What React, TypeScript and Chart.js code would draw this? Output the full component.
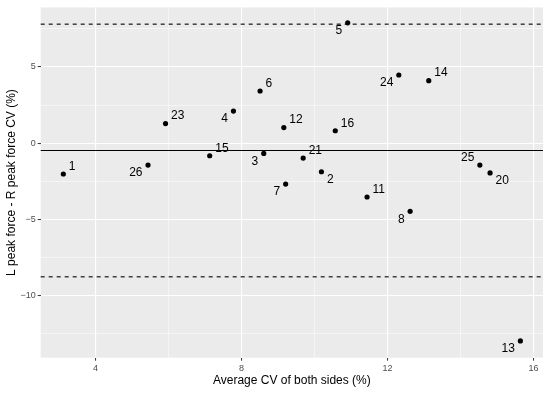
import React, { useEffect, useRef } from "react";
import { Chart, registerables } from "chart.js";

Chart.register(...registerables);

const pointIds = [1, 2, 3, 4, 5, 6, 7, 8, 11, 12, 13, 14, 15, 16, 20, 21, 23, 24, 25, 26];
const avgCV = [3.12, 10.19, 8.61, 7.78, 10.91, 8.51, 9.21, 12.62, 11.44, 9.16, 15.64, 13.13, 7.13, 10.57, 14.81, 9.69, 5.92, 12.31, 14.53, 5.44];
const diffCV = [-2.03, -1.88, -0.68, 2.1, 7.9, 3.42, -2.69, -4.48, -3.54, 1.02, -12.99, 4.1, -0.83, 0.81, -1.96, -0.98, 1.28, 4.47, -1.44, -1.44];
const labelSide = ["ur", "dr", "dl", "dl", "dl", "ur", "dl", "dl", "ur", "ur", "dl", "ur", "ur", "ur", "dr", "ur", "ur", "dl", "ul", "dl"];

const meanDiff = -0.49;
const upperLoA = 7.81;
const lowerLoA = -8.78;

const xTicks = [4, 6, 8, 10, 12, 14, 16];
const yTicks = [-12.5, -10, -7.5, -5, -2.5, 0, 2.5, 5, 7.5];
const xRange = [2.5, 16.26];
const yRange = [-14.09, 8.91];

const FONT = "'Liberation Sans', Arial, Helvetica, sans-serif";

const fmt = (v: number) => (v < 0 ? "\u2212" + String(Math.abs(v)) : String(v));

const panelPlugin = {
  id: "panelBg",
  beforeDraw(chart: any) {
    const { ctx, chartArea } = chart;
    ctx.save();
    ctx.fillStyle = "#EBEBEB";
    ctx.fillRect(chartArea.left, chartArea.top, chartArea.right - chartArea.left, chartArea.bottom - chartArea.top);
    ctx.restore();
  },
};

const refLinesPlugin = {
  id: "refLines",
  beforeDatasetsDraw(chart: any) {
    const { ctx, chartArea, scales } = chart;
    const draw = (v: number, dash: number[]) => {
      const y = scales.y.getPixelForValue(v);
      ctx.save();
      ctx.strokeStyle = "#000000";
      ctx.lineWidth = 1.1;
      ctx.setLineDash(dash);
      ctx.beginPath();
      ctx.moveTo(chartArea.left, y);
      ctx.lineTo(chartArea.right, y);
      ctx.stroke();
      ctx.restore();
    };
    draw(meanDiff, []);
    draw(upperLoA, [4, 4]);
    draw(lowerLoA, [4, 4]);
  },
};

const labelPlugin = {
  id: "pointLabels",
  afterDatasetsDraw(chart: any) {
    const { ctx } = chart;
    const meta = chart.getDatasetMeta(0);
    ctx.save();
    ctx.font = `12px ${FONT}`;
    ctx.fillStyle = "#000000";
    ctx.textBaseline = "middle";
    meta.data.forEach((el: any, i: number) => {
      const side = labelSide[i];
      const right = side[1] === "r";
      const up = side[0] === "u";
      ctx.textAlign = right ? "left" : "right";
      const x = el.x + (right ? 5.5 : -5.5);
      const y = el.y + (up ? -7.5 : 8);
      ctx.fillText(String(pointIds[i]), x, y);
    });
    ctx.restore();
  },
};

export default function App() {
  const ref = useRef<HTMLCanvasElement | null>(null);
  useEffect(() => {
    if (!ref.current) return;
    const chart = new Chart(ref.current, {
      type: "scatter",
      data: {
        datasets: [
          {
            data: avgCV.map((x, i) => ({ x, y: diffCV[i] })),
            backgroundColor: "#000000",
            borderColor: "#000000",
            pointRadius: 2.6,
            pointHoverRadius: 2.6,
            borderWidth: 0,
          },
        ],
      },
      options: {
        responsive: false,
        animation: false,
        devicePixelRatio: 1,
        layout: { padding: { top: 7, right: 7, left: 0, bottom: 0 } },
        plugins: { legend: { display: false }, tooltip: { enabled: false } },
        scales: {
          x: {
            type: "linear",
            min: xRange[0],
            max: xRange[1],
            afterBuildTicks: (s: any) => {
              s.ticks = xTicks.map((value) => ({ value }));
            },
            afterFit: (s: any) => {
              s.height = 35.3;
            },
            border: { display: false },
            grid: {
              color: "#FFFFFF",
              lineWidth: (c: any) => (c.tick && c.tick.value % 4 === 0 ? 1.1 : 0.5),
              tickColor: (c: any) => (c.tick && c.tick.value % 4 === 0 ? "#333333" : "rgba(0,0,0,0)"),
              tickLength: 3,
              tickWidth: 1,
            },
            ticks: {
              padding: 2,
              color: "#4D4D4D",
              font: { family: FONT, size: 9 },
              maxRotation: 0,
              autoSkip: false,
              callback: (v: any) => (Number(v) % 4 === 0 ? fmt(Number(v)) : ""),
            },
            title: {
              display: true,
              text: "Average CV of both sides (%)",
              color: "#000000",
              font: { family: FONT, size: 12 },
              padding: { top: 0, bottom: 4.8 },
            },
          },
          y: {
            type: "linear",
            min: yRange[0],
            max: yRange[1],
            afterBuildTicks: (s: any) => {
              s.ticks = yTicks.map((value) => ({ value }));
            },
            afterFit: (s: any) => {
              s.width = 40.7;
            },
            border: { display: false },
            grid: {
              color: "#FFFFFF",
              lineWidth: (c: any) => (c.tick && c.tick.value % 5 === 0 ? 1.1 : 0.5),
              tickColor: (c: any) => (c.tick && c.tick.value % 5 === 0 ? "#333333" : "rgba(0,0,0,0)"),
              tickLength: 3,
              tickWidth: 1,
            },
            ticks: {
              padding: 2,
              color: "#4D4D4D",
              font: { family: FONT, size: 9 },
              autoSkip: false,
              callback: (v: any) => (Number(v) % 5 === 0 ? fmt(Number(v)) : ""),
            },
            title: {
              display: true,
              text: "L peak force - R peak force CV (%)",
              color: "#000000",
              font: { family: FONT, size: 12 },
              padding: { top: 4.8, bottom: 0 },
            },
          },
        },
      },
      plugins: [panelPlugin, refLinesPlugin, labelPlugin],
    } as any);
    return () => chart.destroy();
  }, []);
  return (
    <div style={{ position: "absolute", left: 0, top: 0, width: 550, height: 393, background: "#FFFFFF" }}>
      <canvas ref={ref} width={550} height={393} style={{ width: 550, height: 393 }} />
    </div>
  );
}
